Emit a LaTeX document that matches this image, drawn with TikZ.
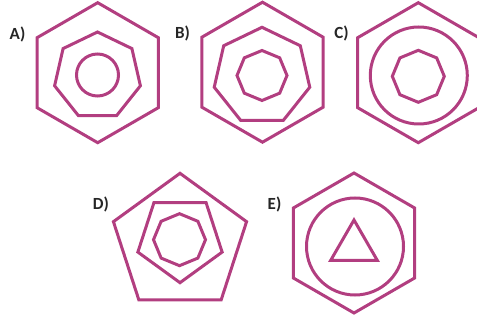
\documentclass[tikz,border=0pt]{standalone}
\usepackage{fontspec}
\setmainfont{Carlito}
\usepackage{tikz}
\usetikzlibrary{shapes.geometric}

\definecolor{puzzle}{RGB}{178,62,128}
\definecolor{labelgray}{RGB}{38,38,38}

\begin{document}
\begin{tikzpicture}[
    x=1pt, y=-1pt,
    outline/.style={draw=puzzle, line width=3pt, inner sep=0pt, outer sep=0pt},
    hex/.style={outline, regular polygon, regular polygon sides=6, rotate=30, minimum size=140pt},
    hept/.style={outline, regular polygon, regular polygon sides=7},
    oct/.style={outline, regular polygon, regular polygon sides=8, rotate=22.5},
    pent/.style={outline, regular polygon, regular polygon sides=5},
    tri/.style={outline, regular polygon, regular polygon sides=3},
    ring/.style={outline, circle},
    opt_label/.style={font=\bfseries\fontsize{17}{17}\selectfont, text=labelgray, inner sep=0pt},
]
\useasboundingbox (0,0) rectangle (477,320);

% top row
\node[opt_label] (lab_a) at (17.5,34) {A)};
\node[hex] (a_hex) at (97.7,72.7) {};
\node[hept, minimum size=88pt] (a_hept) at (97.5,76) {};
\node[ring, minimum size=42pt] (a_circ) at (97.5,75) {};

\node[opt_label] (lab_b) at (182.5,33) {B)};
\node[hex] (b_hex) at (262.5,72.2) {};
\node[hept, minimum size=98pt] (b_hept) at (262,76.3) {};
\node[oct, minimum size=50pt] (b_oct) at (262,75.5) {};

\node[opt_label] (lab_c) at (341.5,33.5) {C)};
\node[hex] (c_hex) at (418.3,72.7) {};
\node[ring, minimum size=97pt] (c_circ) at (418.8,75.5) {};
\node[oct, minimum size=52pt] (c_oct) at (418.3,76.3) {};

% bottom row
\node[opt_label] (lab_d) at (101,204.5) {D)};
\node[pent, minimum size=140pt] (d_pent) at (180,243.3) {};
\node[pent, rotate=180, minimum size=88.6pt] (d_pent2) at (180,238.4) {};
\node[oct, minimum size=52pt] (d_oct) at (179.5,239.7) {};

\node[opt_label] (lab_e) at (274.5,204.5) {E)};
\node[hex] (e_hex) at (354,243) {};
\node[ring, minimum size=97pt] (e_circ) at (355,246.5) {};
\node[tri, minimum size=54pt] (e_tri) at (354,247) {};

\end{tikzpicture}
\end{document}
